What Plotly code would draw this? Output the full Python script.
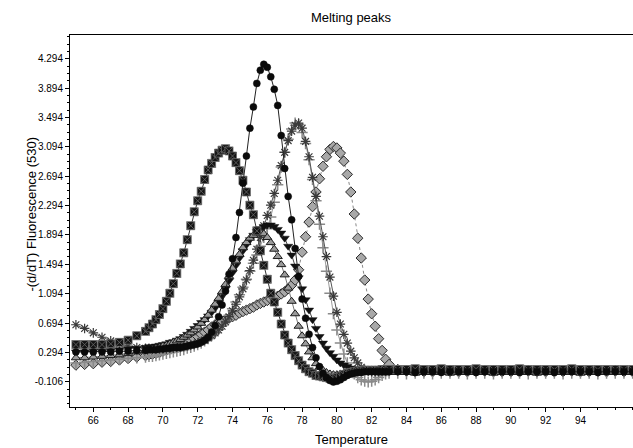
import plotly.graph_objects as go

TEMP = [65.0, 65.5, 66.0, 66.5, 67.0, 67.5, 68.0, 68.5,
        69.0, 69.2, 69.4, 69.6, 69.8, 70.0, 70.2, 70.4, 70.6, 70.8,
        71.0, 71.2, 71.4, 71.6, 71.8, 72.0, 72.2, 72.4, 72.6, 72.8,
        73.0, 73.2, 73.4, 73.6, 73.8, 74.0, 74.2, 74.4, 74.6, 74.8,
        75.0, 75.2, 75.4, 75.6, 75.8, 76.0, 76.2, 76.4, 76.6, 76.8,
        77.0, 77.2, 77.4, 77.6, 77.8, 78.0, 78.2, 78.4, 78.6, 78.8,
        79.0, 79.2, 79.4, 79.6, 79.8, 80.0, 80.2, 80.4, 80.6, 80.8,
        81.0, 81.2, 81.4, 81.6, 81.8, 82.0, 82.2, 82.4, 82.6, 82.8,
        83.0,
        83.5, 84.0, 84.5, 85.0, 85.5, 86.0, 86.5, 87.0, 87.5, 88.0, 88.5, 89.0, 89.5, 90.0,
        90.5, 91.0, 91.5, 92.0, 92.5, 93.0, 93.5, 94.0, 94.5, 95.0, 95.5, 96.0, 96.5, 97.0]

SQUARES = [0.40, 0.40, 0.40, 0.40, 0.41, 0.43, 0.46, 0.52,
           0.58, 0.63, 0.68, 0.74, 0.81, 0.89, 0.99, 1.10, 1.23, 1.37,
           1.50, 1.65, 1.83, 2.02, 2.21, 2.36, 2.49, 2.65, 2.78, 2.87,
           2.95, 3.01, 3.05, 3.07, 3.04, 2.97, 2.88, 2.77, 2.64, 2.48,
           2.30, 2.17, 1.95, 1.68, 1.48, 1.29, 1.10, 0.98, 0.84, 0.68,
           0.53, 0.42, 0.33, 0.25, 0.18, 0.12, 0.07, 0.03, 0.01, -0.02,
           -0.03, -0.04, -0.05, -0.06, -0.06, -0.05, -0.03, -0.01, 0.01, 0.02,
           0.03, 0.04, 0.04, 0.05, 0.05, 0.05, 0.05, 0.05, 0.06, 0.06,
           0.06,
           0.06, 0.06, 0.07, 0.06, 0.06, 0.07, 0.06, 0.06, 0.06, 0.07, 0.06, 0.06, 0.06, 0.06,
           0.07, 0.06, 0.06, 0.06, 0.06, 0.06, 0.07, 0.06, 0.06, 0.06, 0.06, 0.06, 0.06, 0.06]

CIRCLES = [0.30, 0.30, 0.30, 0.30, 0.30, 0.31, 0.31, 0.32,
           0.32, 0.33, 0.33, 0.33, 0.34, 0.34, 0.35, 0.35, 0.36, 0.36,
           0.36, 0.37, 0.38, 0.39, 0.40, 0.41, 0.43, 0.46, 0.50, 0.57,
           0.66, 0.78, 0.94, 1.13, 1.36, 1.57, 1.86, 2.20, 2.60, 2.97,
           3.35, 3.64, 3.96, 4.14, 4.22, 4.18, 4.05, 3.88, 3.66, 3.25,
           2.80, 2.42, 2.10, 1.71, 1.33, 1.02, 0.76, 0.54, 0.36, 0.22,
           0.10, 0.01, -0.05, -0.09, -0.11, -0.10, -0.08, -0.05, -0.02, 0.00,
           0.01, 0.02, 0.02, 0.03, 0.03, 0.03, 0.03, 0.03, 0.03, 0.03,
           0.03,
           0.03, 0.03, 0.02, 0.03, 0.03, 0.02, 0.03, 0.03, 0.03, 0.02, 0.03, 0.03, 0.03, 0.03,
           0.02, 0.03, 0.03, 0.03, 0.02, 0.03, 0.03, 0.03, 0.03, 0.02, 0.03, 0.03, 0.03, 0.03]

TRI_DOWN = [0.30, 0.30, 0.31, 0.31, 0.32, 0.33, 0.34, 0.35,
            0.36, 0.37, 0.37, 0.38, 0.39, 0.40, 0.41, 0.43, 0.44, 0.46,
            0.48, 0.51, 0.54, 0.58, 0.62, 0.66, 0.70, 0.74, 0.79, 0.84,
            0.90, 0.97, 1.06, 1.16, 1.27, 1.38, 1.48, 1.58, 1.68, 1.76,
            1.83, 1.89, 1.94, 1.98, 2.01, 2.03, 2.03, 2.01, 1.97, 1.92,
            1.85, 1.74, 1.62, 1.47, 1.31, 1.16, 1.01, 0.87, 0.74, 0.62,
            0.51, 0.42, 0.35, 0.29, 0.24, 0.19, 0.15, 0.12, 0.10, 0.08,
            0.07, 0.06, 0.06, 0.05, 0.05, 0.05, 0.05, 0.05, 0.05, 0.05,
            0.05,
            0.05, 0.05, 0.05, 0.04, 0.05, 0.05, 0.05, 0.05, 0.04, 0.05, 0.05, 0.05, 0.05, 0.05,
            0.04, 0.05, 0.05, 0.05, 0.05, 0.05, 0.04, 0.05, 0.05, 0.05, 0.05, 0.05, 0.05, 0.05]

TRI_UP = [0.22, 0.22, 0.23, 0.24, 0.25, 0.26, 0.28, 0.30,
          0.32, 0.33, 0.34, 0.35, 0.36, 0.38, 0.39, 0.41, 0.43, 0.45,
          0.47, 0.50, 0.53, 0.56, 0.60, 0.64, 0.69, 0.74, 0.80, 0.87,
          0.95, 1.03, 1.12, 1.22, 1.33, 1.44, 1.54, 1.63, 1.72, 1.79,
          1.85, 1.89, 1.92, 1.93, 1.91, 1.86, 1.79, 1.70, 1.60, 1.49,
          1.35, 1.17, 0.99, 0.82, 0.65, 0.52, 0.41, 0.30, 0.22, 0.14,
          0.09, 0.05, 0.02, 0.00, -0.01, -0.01, 0.00, 0.01, 0.01, 0.02,
          0.02, 0.02, 0.02, 0.02, 0.02, 0.02, 0.02, 0.02, 0.02, 0.02,
          0.02,
          0.02, 0.02, 0.01, 0.02, 0.02, 0.02, 0.01, 0.02, 0.02, 0.02, 0.02, 0.01, 0.02, 0.02,
          0.02, 0.02, 0.01, 0.02, 0.02, 0.02, 0.02, 0.01, 0.02, 0.02, 0.02, 0.02, 0.02, 0.02]

CROSSES = [0.15, 0.16, 0.17, 0.18, 0.19, 0.20, 0.21, 0.22,
           0.23, 0.24, 0.24, 0.25, 0.26, 0.27, 0.28, 0.29, 0.30, 0.31,
           0.32, 0.33, 0.35, 0.36, 0.38, 0.40, 0.42, 0.45, 0.48, 0.52,
           0.56, 0.61, 0.66, 0.73, 0.80, 0.89, 0.98, 1.08, 1.18, 1.29,
           1.40, 1.51, 1.62, 1.74, 1.86, 1.98, 2.14, 2.34, 2.58, 2.82,
           3.02, 3.20, 3.34, 3.42, 3.40, 3.29, 3.14, 2.92, 2.65, 2.36,
           2.04, 1.72, 1.40, 1.10, 0.82, 0.60, 0.42, 0.27, 0.15, 0.06,
           0.00, -0.05, -0.08, -0.10, -0.11, -0.10, -0.08, -0.05, -0.02, 0.00,
           0.01,
           0.01, 0.00, 0.01, 0.01, 0.00, 0.01, 0.01, 0.01, 0.00, 0.01, 0.01, 0.00, 0.01, 0.01,
           0.01, 0.00, 0.01, 0.01, 0.01, 0.00, 0.01, 0.01, 0.01, 0.00, 0.01, 0.01, 0.01, 0.01]

ASTERISKS = [0.67, 0.62, 0.56, 0.50, 0.45, 0.41, 0.38, 0.36,
             0.35, 0.35, 0.34, 0.34, 0.34, 0.34, 0.34, 0.35, 0.35, 0.36,
             0.36, 0.37, 0.38, 0.39, 0.40, 0.42, 0.44, 0.46, 0.49, 0.52,
             0.56, 0.60, 0.65, 0.71, 0.78, 0.86, 0.95, 1.05, 1.16, 1.28,
             1.41, 1.55, 1.70, 1.86, 2.02, 2.16, 2.30, 2.46, 2.64, 2.84,
             3.02, 3.18, 3.31, 3.39, 3.42, 3.35, 3.17, 2.96, 2.68, 2.42,
             2.15, 1.87, 1.60, 1.32, 1.06, 0.84, 0.68, 0.54, 0.42, 0.31,
             0.22, 0.15, 0.09, 0.06, 0.04, 0.03, 0.03, 0.03, 0.04, 0.04,
             0.04,
             0.04, 0.04, 0.05, 0.04, 0.04, 0.04, 0.05, 0.04, 0.04, 0.04, 0.04, 0.05, 0.04, 0.04,
             0.04, 0.05, 0.04, 0.04, 0.04, 0.04, 0.05, 0.04, 0.04, 0.04, 0.04, 0.05, 0.04, 0.04]

DIAMONDS = [0.12, 0.13, 0.14, 0.16, 0.17, 0.19, 0.21, 0.23,
            0.25, 0.26, 0.27, 0.28, 0.29, 0.31, 0.32, 0.34, 0.36, 0.38,
            0.40, 0.42, 0.44, 0.46, 0.48, 0.51, 0.54, 0.57, 0.60, 0.64,
            0.67, 0.70, 0.72, 0.74, 0.76, 0.78, 0.80, 0.83, 0.85, 0.87,
            0.89, 0.91, 0.94, 0.96, 0.98, 1.00, 1.02, 1.04, 1.06, 1.09,
            1.12, 1.16, 1.21, 1.28, 1.42, 1.66, 1.87, 2.07, 2.28, 2.48,
            2.66, 2.83, 2.96, 3.06, 3.10, 3.08, 3.01, 2.90, 2.72, 2.48,
            2.18, 1.85, 1.58, 1.28, 1.02, 0.82, 0.65, 0.48, 0.32, 0.20,
            0.13,
            0.06, 0.04, 0.03, 0.03, 0.03, 0.04, 0.03, 0.03, 0.03, 0.03, 0.04, 0.03, 0.03, 0.03,
            0.03, 0.04, 0.03, 0.03, 0.03, 0.03, 0.04, 0.03, 0.03, 0.03, 0.03, 0.04, 0.03, 0.03]

Y_TICK_VALUES = [-0.106, 0.294, 0.694, 1.094, 1.494, 1.894, 2.294, 2.694, 3.094, 3.494, 3.894, 4.294]
Y_TICK_TEXT = ["-0.106", "0.294", "0.694", "1.094", "1.494", "1.894", "2.294", "2.694",
               "3.094", "3.494", "3.894", "4.294"]
X_TICK_VALUES = [66, 68, 70, 72, 74, 76, 78, 80, 82, 84, 86, 88, 90, 92, 94]

SERIES = [
    ("Diamonds", DIAMONDS),
    ("Crosses", CROSSES),
    ("Asterisks", ASTERISKS),
    ("Triangles down", TRI_DOWN),
    ("Triangles up", TRI_UP),
    ("Squares", SQUARES),
    ("Circles", CIRCLES),
]

STYLES = {
    "Diamonds": dict(marker=dict(symbol="diamond", size=8, color="#a8a8a8",
                                 line=dict(color="#2a2a2a", width=1)),
                     line=dict(color="#888888", width=1, dash="dot")),
    "Crosses": dict(marker=dict(symbol="cross-thin-open", size=8, color="#8a8a8a",
                                line=dict(color="#8a8a8a", width=1.5)),
                    line=dict(color="#9a9a9a", width=1)),
    "Asterisks": dict(marker=dict(symbol="asterisk-open", size=8, color="#3a3a3a",
                                  line=dict(color="#3a3a3a", width=1.2)),
                      line=dict(color="#555555", width=1)),
    "Triangles down": dict(marker=dict(symbol="triangle-down", size=8, color="#111111",
                                       line=dict(color="#111111", width=0.5)),
                           line=dict(color="#444444", width=1)),
    "Triangles up": dict(marker=dict(symbol="triangle-up", size=8, color="#9a9a9a",
                                     line=dict(color="#1a1a1a", width=1)),
                         line=dict(color="#777777", width=1)),
    "Squares": dict(marker=dict(symbol="square-x", size=8, color="#141414",
                                line=dict(color="#6a6a6a", width=0.8)),
                    line=dict(color="#333333", width=1)),
    "Circles": dict(marker=dict(symbol="circle", size=7, color="#0a0a0a",
                                line=dict(color="#0a0a0a", width=0.5)),
                    line=dict(color="#222222", width=1)),
}

fig = go.Figure()
for name, values in SERIES:
    if len(values) != len(TEMP):
        raise ValueError(f"{name}: {len(values)} values vs {len(TEMP)} temps")
    st = STYLES[name]
    fig.add_trace(go.Scatter(x=TEMP, y=values, mode="lines+markers", name=name,
                             marker=st["marker"], line=st["line"], showlegend=False))

FONT = "Liberation Sans, Arial, sans-serif"

fig.update_layout(
    width=633, height=448,
    margin=dict(l=70, r=0, t=35, b=41),
    paper_bgcolor="white", plot_bgcolor="white",
    font=dict(family=FONT, color="black", size=10),
    title=dict(text="Melting peaks", x=0.5545, xanchor="center", y=0.96, yanchor="middle",
               font=dict(family=FONT, size=13, color="black")),
    showlegend=False,
)

fig.update_xaxes(
    range=[64.66, 97.02], tickvals=X_TICK_VALUES, ticktext=[str(v) for v in X_TICK_VALUES],
    showgrid=False, zeroline=False, showline=True, linecolor="black", linewidth=1,
    mirror=True, ticks="outside", ticklen=4, tickcolor="black",
    tickfont=dict(family=FONT, size=10, color="black"),
    minor=dict(dtick=1, tick0=0, ticks="outside", ticklen=2, tickcolor="black"),
)
fig.update_yaxes(
    range=[-0.451, 4.62], tickvals=Y_TICK_VALUES, ticktext=Y_TICK_TEXT,
    showgrid=False, zeroline=False, showline=True, linecolor="black", linewidth=1,
    ticks="outside", ticklen=4, tickcolor="black",
    tickfont=dict(family=FONT, size=10, color="black"),
    minor=dict(tick0=-0.106, dtick=0.1, ticks="outside", ticklen=2, tickcolor="black"),
)

fig.add_annotation(text="Temperature", xref="paper", yref="paper", x=0.5, y=-0.0887,
                   xanchor="center", yanchor="middle", showarrow=False,
                   font=dict(family=FONT, size=13, color="black"))
fig.add_annotation(text="-(d/dT) Fluorescence (530)", xref="paper", yref="paper",
                   x=-0.0675, y=0.52, xanchor="center", yanchor="middle", textangle=-90,
                   showarrow=False, font=dict(family=FONT, size=13, color="black"))

fig.write_html("out.html")
